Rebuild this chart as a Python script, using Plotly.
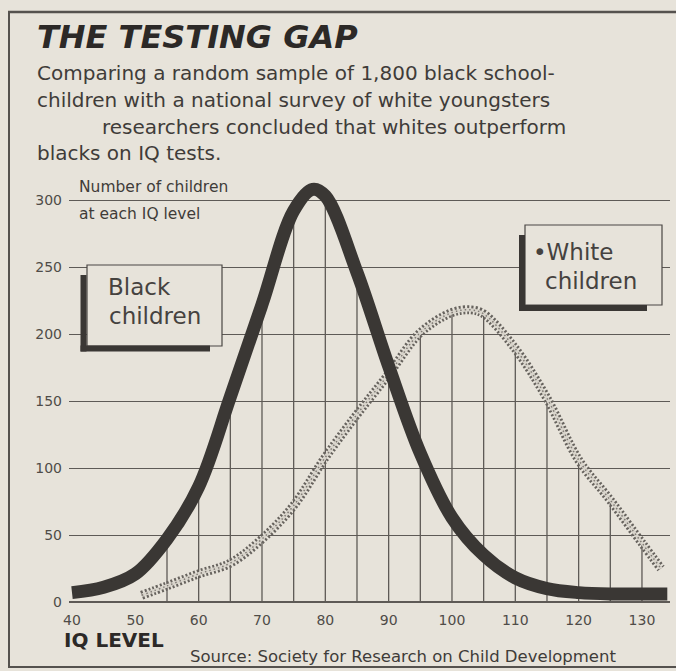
import numpy as np
import plotly.graph_objects as go

# ---------------- data ----------------
iq_black = [40, 45, 50, 55, 60, 65, 70, 75, 78, 80, 85, 90, 95, 100, 105, 110, 115, 120, 125, 130, 134]
black_counts = [7, 11, 21, 47, 86, 153, 222, 292, 308, 303, 246, 176, 111, 63, 35, 18, 10, 7, 6, 6, 6]

iq_white = [51, 55, 60, 65, 70, 75, 80, 85, 90, 95, 100, 103, 105, 110, 115, 120, 125, 130, 133]
white_counts = [5, 12, 21, 29, 47, 72, 108, 140, 170, 201, 216, 218, 215, 189, 152, 106, 76, 44, 25]

x_ticks = [40, 50, 60, 70, 80, 90, 100, 110, 120, 130]
y_ticks = [0, 50, 100, 150, 200, 250, 300]
v_grid = list(range(55, 131, 5))

title = "THE TESTING GAP"
sub_lines = [
    "Comparing a random sample of 1,800 black school-",
    "children with a national survey of white youngsters",
    "researchers concluded that whites outperform",
    "blacks on IQ tests.",
]
source = "Source: Society for Research on Child Development"

# ---------------- style ----------------
BG = "#e7e3da"
INK = "#3a3734"
GRID = "#5e5a56"
TXT = "#3f3c39"
FONT = "DejaVu Sans"

W, H = 676, 671
ML, MR, MT, MB = 69, 6, 166, 61
PW, PH = W - ML - MR, H - MT - MB


def fx(px):
    return (px - ML) / PW


def fy(py):
    return (H - MB - py) / PH


fig = go.Figure()

# vertical grid lines up to the envelope of the two curves
gx, gy = [], []
for v in v_grid:
    h = max(np.interp(v, iq_black, black_counts), np.interp(v, iq_white, white_counts))
    gx += [v, v, None]
    gy += [0, h, None]
fig.add_trace(go.Scatter(x=gx, y=gy, mode="lines", line=dict(color=GRID, width=1.3),
                         hoverinfo="skip", showlegend=False))

# white children: stippled band
fig.add_trace(go.Scatter(x=iq_white, y=white_counts, mode="lines",
                         line=dict(color="#67635e", width=9, dash="2px,2px", shape="spline", smoothing=1),
                         hoverinfo="skip", showlegend=False))
fig.add_trace(go.Scatter(x=iq_white, y=white_counts, mode="lines",
                         line=dict(color="#d8d4cb", width=3.5, shape="spline", smoothing=1),
                         hoverinfo="skip", showlegend=False))
fig.add_trace(go.Scatter(x=iq_white, y=white_counts, mode="lines", name="White children",
                         line=dict(color="#807b75", width=1.5, dash="1.5px,3px", shape="spline", smoothing=1),
                         showlegend=False))

# black children: heavy line
fig.add_trace(go.Scatter(x=iq_black, y=black_counts, mode="lines", name="Black children",
                         line=dict(color=INK, width=13, shape="spline", smoothing=1),
                         showlegend=False))

shapes = []
# outer frame
shapes.append(dict(type="line", xref="paper", yref="paper", x0=fx(9), x1=fx(9), y0=fy(12), y1=fy(667),
                   line=dict(color="#55524e", width=2)))
shapes.append(dict(type="line", xref="paper", yref="paper", x0=fx(8), x1=fx(676), y0=fy(12), y1=fy(12),
                   line=dict(color="#55524e", width=2.5)))
shapes.append(dict(type="line", xref="paper", yref="paper", x0=fx(8), x1=fx(676), y0=fy(667), y1=fy(667),
                   line=dict(color="#55524e", width=2)))


def label_box(x0, y0, x1, y1, sh_x, sh_y_top, sh_y, sh_x_end):
    out = []
    out.append(dict(type="rect", xref="paper", yref="paper", x0=fx(x0), x1=fx(x1), y0=fy(y1), y1=fy(y0),
                    fillcolor=BG, line=dict(color="#4a4744", width=1.2), layer="above"))
    out.append(dict(type="line", xref="paper", yref="paper", x0=fx(sh_x), x1=fx(sh_x),
                    y0=fy(sh_y_top), y1=fy(sh_y + 3), line=dict(color=INK, width=6), layer="above"))
    out.append(dict(type="line", xref="paper", yref="paper", x0=fx(sh_x - 3), x1=fx(sh_x_end),
                    y0=fy(sh_y), y1=fy(sh_y), line=dict(color=INK, width=6), layer="above"))
    return out


shapes += label_box(87, 265, 222, 346, 83.5, 275, 348.5, 210)
shapes += label_box(525, 225, 662, 305, 522, 235, 308, 647)

ann = []
ann.append(dict(xref="paper", yref="paper", x=fx(35), y=fy(37), xanchor="left", yanchor="middle",
                text="<b><i>" + title + "</i></b>", showarrow=False,
                font=dict(family=FONT, size=32, color="#2c2927", weight="bold", style="italic")))
sub_pos = [(35, 73), (35, 100), (100, 127), (35, 153)]
for (px, py), t in zip(sub_pos, sub_lines):
    ann.append(dict(xref="paper", yref="paper", x=fx(px), y=fy(py), xanchor="left", yanchor="middle",
                    text=t, showarrow=False, font=dict(family=FONT, size=20, color=TXT)))
ann.append(dict(xref="paper", yref="paper", x=fx(77), y=fy(187), xanchor="left", yanchor="middle",
                text="Number of children", showarrow=False, font=dict(family=FONT, size=15.5, color=TXT)))
ann.append(dict(xref="paper", yref="paper", x=fx(77), y=fy(214), xanchor="left", yanchor="middle",
                text="at each IQ level", showarrow=False, font=dict(family=FONT, size=15.5, color=TXT)))
ann.append(dict(xref="paper", yref="paper", x=fx(106), y=fy(287), xanchor="left", yanchor="middle",
                text="Black", showarrow=False, font=dict(family=FONT, size=23, color="#45423f")))
ann.append(dict(xref="paper", yref="paper", x=fx(107), y=fy(316), xanchor="left", yanchor="middle",
                text="children", showarrow=False, font=dict(family=FONT, size=23, color="#45423f")))
ann.append(dict(xref="paper", yref="paper", x=fx(531), y=fy(252), xanchor="left", yanchor="middle",
                text="•White", showarrow=False, font=dict(family=FONT, size=23, color="#45423f")))
ann.append(dict(xref="paper", yref="paper", x=fx(543), y=fy(281), xanchor="left", yanchor="middle",
                text="children", showarrow=False, font=dict(family=FONT, size=23, color="#45423f")))
ann.append(dict(xref="paper", yref="paper", x=fx(62), y=fy(640), xanchor="left", yanchor="middle",
                text="<b>IQ LEVEL</b>", showarrow=False,
                font=dict(family=FONT, size=20, color="#2c2927", weight="bold")))
ann.append(dict(xref="paper", yref="paper", x=fx(188), y=fy(656), xanchor="left", yanchor="middle",
                text=source, showarrow=False, font=dict(family=FONT, size=16.5, color=TXT)))

x_px_per = 6.333
y_px_per = 1.34
x_lo = 40 - (72 - ML) / x_px_per
x_hi = 40 + (W - MR - 72) / x_px_per
y_lo = -((H - MB) - 602) / y_px_per
y_hi = (602 - MT) / y_px_per

fig.update_layout(
    width=W, height=H,
    margin=dict(l=ML, r=MR, t=MT, b=MB, pad=0),
    paper_bgcolor=BG, plot_bgcolor=BG,
    showlegend=False,
    shapes=shapes,
    annotations=ann,
    xaxis=dict(range=[x_lo, x_hi], tickvals=x_ticks, ticktext=[str(v) for v in x_ticks],
               showgrid=False, zeroline=False, showline=False, ticks="",
               tickfont=dict(family=FONT, size=14, color="#4f4c48"), fixedrange=True),
    yaxis=dict(range=[y_lo, y_hi], tickvals=y_ticks, ticktext=[str(v) for v in y_ticks],
               showgrid=True, gridcolor=GRID, gridwidth=1.3,
               zeroline=True, zerolinecolor=GRID, zerolinewidth=1.6, showline=False, ticks="",
               ticklabelstandoff=6,
               tickfont=dict(family=FONT, size=14, color="#4f4c48"), fixedrange=True),
)

fig.write_html(
    "out.html",
    config={"displayModeBar": False},
    post_script="document.body.style.margin='0px';document.body.style.overflow='hidden';"
                "document.body.style.background='" + BG + "';",
)
